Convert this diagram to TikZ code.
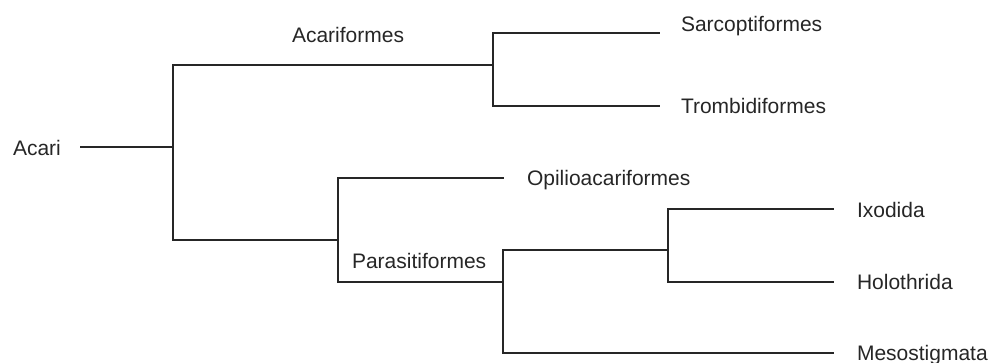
\documentclass[tikz,border=0pt]{standalone}
\usepackage{fontspec}
\setmainfont{Liberation Sans}
\begin{document}
\begin{tikzpicture}[x=1pt,y=-1pt,
  lbl/.style={anchor=base west,inner sep=0pt,outer sep=0pt,font=\fontsize{21}{24}\selectfont,text=black!85},
  branch/.style={draw=black!85,line width=1.1pt,line cap=rect}]
\useasboundingbox (0,0) rectangle (993,362);
% labels
\node[lbl] (acari) at (13,155) {Acari};
\node[lbl] (acariformes) at (292,42) {Acariformes};
\node[lbl] (sarco) at (681,31) {Sarcoptiformes};
\node[lbl] (trombi) at (681,113) {Trombidiformes};
\node[lbl] (opilio) at (527,185) {Opilioacariformes};
\node[lbl] (parasiti) at (352,268) {Parasitiformes};
\node[lbl] (ixodida) at (857,217) {Ixodida};
\node[lbl] (holo) at (857,289) {Holothrida};
\node[lbl] (meso) at (857,360) {Mesostigmata};
% coordinates
\coordinate (r0) at (81,147);
\coordinate (r) at (173,147);
\coordinate (rt) at (173,65);
\coordinate (rb) at (173,240);
\coordinate (ac) at (493,65);
\coordinate (act) at (493,33);
\coordinate (acb) at (493,106);
\coordinate (sarE) at (659,33);
\coordinate (troE) at (659,106);
\coordinate (pa) at (338,240);
\coordinate (pat) at (338,178);
\coordinate (pab) at (338,282);
\coordinate (opE) at (503,178);
\coordinate (pp) at (503,282);
\coordinate (ppt) at (503,250);
\coordinate (ppb) at (503,353);
\coordinate (ix) at (668,250);
\coordinate (ixt) at (668,209);
\coordinate (ixb) at (668,282);
\coordinate (ixE) at (833,209);
\coordinate (hoE) at (833,282);
\coordinate (meE) at (833,353);
% branches
\path[branch] (r0) -- (r);
\path[branch] (rt) -- (rb);
\path[branch] (rt) -- (ac);
\path[branch] (act) -- (acb);
\path[branch] (act) -- (sarE);
\path[branch] (acb) -- (troE);
\path[branch] (rb) -- (pa);
\path[branch] (pat) -- (pab);
\path[branch] (pat) -- (opE);
\path[branch] (pab) -- (pp);
\path[branch] (ppt) -- (ppb);
\path[branch] (ppt) -- (ix);
\path[branch] (ixt) -- (ixb);
\path[branch] (ixt) -- (ixE);
\path[branch] (ixb) -- (hoE);
\path[branch] (ppb) -- (meE);
\end{tikzpicture}
\end{document}
